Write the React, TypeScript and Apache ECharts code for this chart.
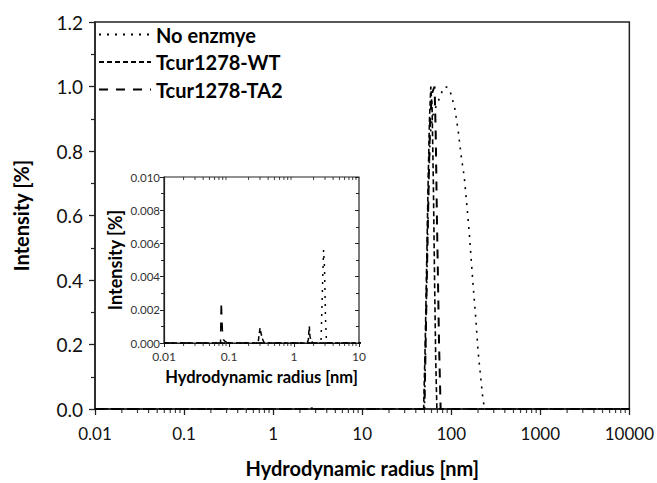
import React, { useEffect, useRef } from 'react';
import * as echarts from 'echarts';

// Tick labels
const X_TICK_LABELS = ['0.01', '0.1', '1', '10', '100', '1000', '10000'];
const INSET_X_TICK_LABELS = ['0.01', '0.1', '1', '10'];
// Decade starts and minor multipliers for log minor ticks
const MAIN_DECADES = [0.01, 0.1, 1, 10, 100, 1000];
const INSET_DECADES = [0.01, 0.1, 1];
const MINOR_STEPS = [2, 3, 4, 5, 6, 7, 8, 9];

const SERIES_NAMES = ['No enzmye', 'Tcur1278-WT', 'Tcur1278-TA2'];

// [radius nm, intensity]
const NO_ENZYME: [number, number][] = [
  [0.01, 0], [2.6, 0], [2.75, 0.0035], [2.85, 0.0056], [2.95, 0.0045], [3.05, 0.0015], [3.15, 0.0002], [3.3, 0],
  [50, 0], [52, 0.25], [54, 0.5], [56, 0.7], [58, 0.85], [62, 0.91], [68, 0.94], [74, 0.965], [79, 0.985],
  [86, 1.0], [93, 0.995], [100, 0.975], [110, 0.93], [120, 0.86], [130, 0.78], [140, 0.72], [150, 0.63],
  [160, 0.54], [170, 0.44], [180, 0.35], [190, 0.27], [200, 0.18], [212, 0.11], [224, 0.045], [236, 0], [10000, 0],
];

const WT: [number, number][] = [
  [0.01, 0], [0.28, 0], [0.3, 0.0009], [0.31, 0.0006], [0.33, 0.0002], [0.35, 0],
  [1.6, 0], [1.66, 0.0002], [1.72, 0.001], [1.76, 0.0004], [1.84, 0.0001], [1.98, 0],
  [49, 0], [51, 0.2], [53, 0.45], [55, 0.7], [57, 0.9], [59, 1.0], [61, 0.93], [63, 0.7], [65, 0.4], [67, 0.15], [69, 0],
  [10000, 0],
];

const TA2: [number, number][] = [
  [0.01, 0], [0.074, 0], [0.076, 0.0025], [0.079, 0.0008], [0.082, 0.0002], [0.087, 0.0001], [0.095, 0],
  [50, 0], [52, 0.25], [54, 0.5], [56, 0.72], [58, 0.9], [61, 0.98], [65, 1.0], [67, 0.85], [69, 0.6],
  [71, 0.4], [73, 0.2], [76, 0], [10000, 0],
];

const FONT = 'Lato, "Open Sans", sans-serif';

const LINE_STYLES = [
  { type: [2, 6], width: 1.6, color: '#000' },
  { type: [5, 3], width: 1.6, color: '#000' },
  { type: [9, 8], width: 2, color: '#000' },
];

function minorTicks(decades: number[], y: number) {
  const out: [number, number][] = [];
  decades.forEach((d) => MINOR_STEPS.forEach((m) => out.push([d * m, y])));
  return out;
}

function xLabel(labels: string[]) {
  return (v: number) => {
    const i = Math.round(Math.log10(v)) + 2;
    return labels[i] ?? '';
  };
}

export default function App() {
  const ref = useRef<HTMLDivElement>(null);

  useEffect(() => {
    if (!ref.current) return;
    const chart = echarts.init(ref.current, undefined, { renderer: 'svg' });
    const datasets = [NO_ENZYME, WT, TA2];

    const mainSeries = datasets.map((d, i) => ({
      type: 'line',
      name: SERIES_NAMES[i],
      xAxisIndex: 0,
      yAxisIndex: 0,
      data: d,
      symbol: 'none',
      lineStyle: LINE_STYLES[i],
      itemStyle: { color: '#000' },
      z: 3,
    }));
    const insetSeries = datasets.map((d, i) => ({
      type: 'line',
      name: SERIES_NAMES[i] + ' (inset)',
      xAxisIndex: 1,
      yAxisIndex: 1,
      data: d,
      symbol: 'none',
      lineStyle: { ...LINE_STYLES[i], width: 1.5 },
      itemStyle: { color: '#000' },
      z: 3,
    }));

    const tickSeries = (xi: number, yi: number, data: [number, number][], size: number[], offset: number[]) => ({
      type: 'scatter',
      xAxisIndex: xi,
      yAxisIndex: yi,
      data,
      symbol: 'rect',
      symbolSize: size,
      symbolOffset: offset,
      itemStyle: { color: '#111' },
      silent: true,
      clip: false,
      z: 5,
    });

    const option = {
      animation: false,
      backgroundColor: '#fff',
      textStyle: { fontFamily: FONT },
      legend: {
        data: SERIES_NAMES,
        orient: 'vertical',
        left: 93,
        top: 19,
        itemWidth: 52,
        itemHeight: 14,
        itemGap: 6.5,
        itemStyle: { opacity: 0 },
        textStyle: { fontFamily: FONT, fontSize: 20, lineHeight: 21, fontWeight: 'bold', color: '#000' },
      },
      grid: [
        { left: 95, top: 22, width: 535, height: 390, show: true, borderColor: '#222', borderWidth: 1.5, backgroundColor: 'transparent' },
        { left: 164, top: 177, width: 195, height: 166, show: true, borderColor: '#222', borderWidth: 1.2, backgroundColor: '#fff' },
      ],
      xAxis: [
        {
          type: 'log', logBase: 10, gridIndex: 0, min: 0.01, max: 10000, splitNumber: 6,
          axisLine: { lineStyle: { color: '#222', width: 1.5 } },
          axisTick: { length: 6, lineStyle: { color: '#222', width: 1.3 } },
          axisLabel: { formatter: xLabel(X_TICK_LABELS), fontSize: 17, color: '#111', margin: 16, fontFamily: FONT },
          splitLine: { show: false },
          name: 'Hydrodynamic radius [nm]', nameLocation: 'middle', nameGap: 49,
          nameTextStyle: { fontSize: 20, fontWeight: 'bold', color: '#000', fontFamily: FONT },
        },
        {
          type: 'log', logBase: 10, gridIndex: 1, min: 0.01, max: 10, splitNumber: 3,
          axisLine: { lineStyle: { color: '#222', width: 1.2 } },
          axisTick: { length: 4, lineStyle: { color: '#222', width: 1 } },
          axisLabel: { formatter: xLabel(INSET_X_TICK_LABELS), fontSize: 12, color: '#333', margin: 7, fontFamily: FONT },
          splitLine: { show: false },
          name: 'Hydrodynamic radius [nm]', nameLocation: 'middle', nameGap: 25,
          nameTextStyle: { fontSize: 16.5, fontWeight: 'bold', color: '#000', fontFamily: FONT },
        },
        {
          type: 'log', logBase: 10, gridIndex: 1, min: 0.01, max: 10, splitNumber: 3, position: 'top',
          axisLine: { show: false },
          axisTick: { inside: true, length: 4, lineStyle: { color: '#222', width: 1 } },
          axisLabel: { show: false },
          splitLine: { show: false },
        },
      ],
      yAxis: [
        {
          type: 'value', gridIndex: 0, min: 0, max: 1.2, interval: 0.2,
          axisLine: { show: true, lineStyle: { color: '#222', width: 1.5 } },
          axisTick: { show: true, length: 6, lineStyle: { color: '#222', width: 1.3 } },
          minorTick: { show: true, splitNumber: 2, length: 4, lineStyle: { color: '#222', width: 1.2 } },
          axisLabel: { formatter: (v: number) => v.toFixed(1), fontSize: 19, color: '#111', margin: 12, fontFamily: FONT },
          splitLine: { show: false },
          name: 'Intensity [%]', nameLocation: 'middle', nameGap: 64,
          nameTextStyle: { fontSize: 20, fontWeight: 'bold', color: '#000', fontFamily: FONT },
        },
        {
          type: 'value', gridIndex: 1, min: 0, max: 0.01, interval: 0.002,
          axisLine: { show: true, lineStyle: { color: '#222', width: 1.2 } },
          axisTick: { show: true, length: 4, lineStyle: { color: '#222', width: 1 } },
          minorTick: { show: true, splitNumber: 2, length: 3, lineStyle: { color: '#222', width: 1 } },
          axisLabel: { formatter: (v: number) => v.toFixed(3), fontSize: 11.5, color: '#333', margin: 4, fontFamily: FONT },
          splitLine: { show: false },
          name: 'Intensity [%]', nameLocation: 'middle', nameGap: 40,
          nameTextStyle: { fontSize: 18, fontWeight: 'bold', color: '#000', fontFamily: FONT },
        },
        {
          type: 'value', gridIndex: 1, min: 0, max: 0.01, interval: 0.002, position: 'right',
          axisLine: { show: false },
          axisTick: { show: true, inside: true, length: 4, lineStyle: { color: '#222', width: 1 } },
          minorTick: { show: true, splitNumber: 2, length: 3, lineStyle: { color: '#222', width: 1 } },
          axisLabel: { show: false },
          splitLine: { show: false },
        },
      ],
      series: [
        ...mainSeries,
        ...insetSeries,
        tickSeries(0, 0, minorTicks(MAIN_DECADES, 0), [1.2, 4], [0, 2]),
        tickSeries(1, 1, minorTicks(INSET_DECADES, 0), [1, 3], [0, 1.5]),
        tickSeries(1, 1, minorTicks(INSET_DECADES, 0.01), [1, 3], [0, 1.5]),
      ],
    };

    chart.setOption(option as any);
    return () => chart.dispose();
  }, []);

  return (
    <div
      ref={ref}
      style={{ position: 'fixed', left: 0, top: 0, width: 657, height: 483, background: '#fff' }}
    />
  );
}
